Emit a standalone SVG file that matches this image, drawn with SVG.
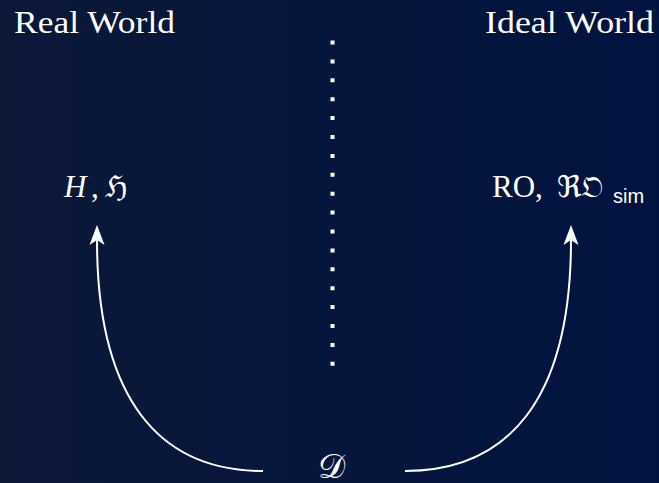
<svg xmlns="http://www.w3.org/2000/svg" width="659" height="483" viewBox="0 0 659 483">
  <defs>
    <linearGradient id="bg" x1="0" y1="0" x2="1" y2="0">
      <stop offset="0" stop-color="#0b1838"/>
      <stop offset="1" stop-color="#01133f"/>
    </linearGradient>
    <marker id="arrow" markerUnits="userSpaceOnUse" viewBox="-21 -9 25 18" refX="-15" refY="0" markerWidth="25" markerHeight="18" orient="auto">
      <path d="M0,0 L-20,-7.5 L-15,0 L-20,7.5 Z" fill="#ffffff"/>
    </marker>
    <style>
      .title { font-family: "Liberation Serif", "DejaVu Serif", serif; font-size: 31px; fill: #ffffff; }
      .math { font-family: "Liberation Serif", "DejaVu Serif", serif; font-size: 31px; fill: #ffffff; }
      .it { font-style: italic; }
      .frak { font-family: "DejaVu Serif", "DejaVu Sans", "Noto Sans", serif; font-size: 30px; fill: #ffffff; }
      .script { font-family: "DejaVu Serif", "DejaVu Sans", "Noto Sans", serif; font-size: 34px; fill: #ffffff; }
      .sub { font-family: "Liberation Sans", "DejaVu Sans", sans-serif; font-size: 20px; fill: #ffffff; }
      .conn { fill: none; stroke: #ffffff; stroke-width: 2; }
    </style>
  </defs>
  <rect x="0" y="0" width="659" height="483" fill="url(#bg)"/>

  <g id="real-world">
    <text class="title" x="14" y="33" textLength="161" lengthAdjust="spacingAndGlyphs">Real World</text>
  </g>
  <g id="ideal-world">
    <text class="title" x="485" y="33" textLength="169" lengthAdjust="spacingAndGlyphs">Ideal World</text>
  </g>

  <g id="divider">
    <line x1="332.5" y1="40.5" x2="332.5" y2="366" stroke="#ffffff" stroke-width="4" stroke-dasharray="4 14.9"/>
  </g>

  <g id="hash-node">
    <text class="math it" x="64" y="197">H</text>
    <text class="math" x="91" y="197">,</text>
    <text class="frak" x="105" y="197">ℌ</text>
  </g>

  <g id="ro-node">
    <text class="math" x="492" y="197">RO,</text>
    <text class="frak" x="557" y="197">ℜ𝔒</text>
    <text class="sub" x="613" y="203">sim</text>
  </g>

  <g id="distinguisher">
    <text class="script" x="318" y="478">𝒟</text>
  </g>

  <g id="connectors">
    <path class="conn" d="M263,471 C160,471 97,400 97,240" marker-end="url(#arrow)"/>
    <path class="conn" d="M405,471 C508,471 571,400 571,240" marker-end="url(#arrow)"/>
  </g>
</svg>
